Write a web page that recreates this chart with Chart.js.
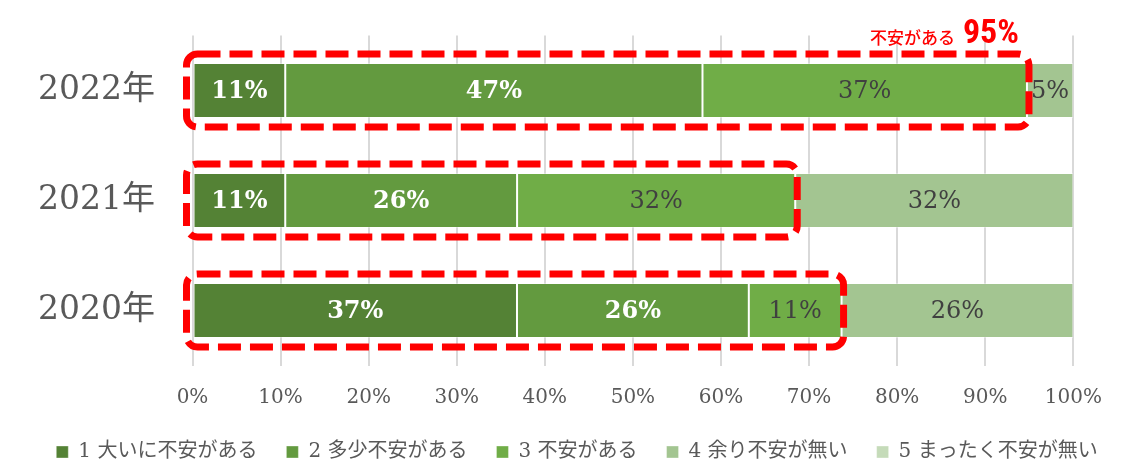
<!DOCTYPE html>
<html>
<head>
<meta charset="utf-8">
<script src="https://cdn.jsdelivr.net/npm/chart.js@4"></script>
<style>
html,body{margin:0;padding:0;background:#fff;}
#wrap{width:1122px;height:473px;}
</style>
</head>
<body>
<div id="wrap"><canvas id="c" width="1122" height="473"></canvas></div>
<script>
// ---- data ----
const categories = ['2022年', '2021年', '2020年'];
const seriesNames = ['1 大いに不安がある', '2 多少不安がある', '3 不安がある', '4 余り不安が無い', '5 まったく不安が無い'];
const series1 = [10.53, 10.53, 36.84];
const series2 = [47.37, 26.32, 26.32];
const series3 = [36.84, 31.58, 10.53];
const series4 = [5.26, 31.58, 26.32];
const series5 = [0, 0, 0];
const xTickValues = [0, 10, 20, 30, 40, 50, 60, 70, 80, 90, 100];
const calloutText = '不安がある';

// ---- styles ----
const seriesColors = ['#548235', '#639A3F', '#70AD47', '#A3C591', '#C5DBB9'];
const labelColors = ['#ffffff', '#ffffff', '#404040', '#404040', '#404040'];
const labelWeights = ['bold', 'bold', 'normal', 'normal', 'normal'];
const serif = '"DejaVu Serif", "Liberation Serif", "Noto Sans CJK JP", serif';
const allSeries = [series1, series2, series3, series4, series5];
const highlighted = [series1, series2, series3];

const valueLabels = {
  id: 'valueLabels',
  afterDatasetsDraw(chart) {
    const ctx = chart.ctx;
    ctx.save();
    ctx.textAlign = 'center';
    ctx.textBaseline = 'middle';
    chart.data.datasets.forEach((ds, di) => {
      const meta = chart.getDatasetMeta(di);
      meta.data.forEach((bar, i) => {
        const v = ds.data[i];
        if (!v) return;
        const p = bar.getProps(['x', 'y', 'base'], true);
        ctx.fillStyle = labelColors[di];
        ctx.font = labelWeights[di] + ' 24px ' + serif;
        ctx.fillText(Math.round(v) + '%', (p.x + p.base) / 2, p.y + 1);
      });
    });
    ctx.restore();
  }
};

const highlightBoxes = {
  id: 'highlightBoxes',
  afterDatasetsDraw(chart) {
    const ctx = chart.ctx;
    const xs = chart.scales.x;
    const meta0 = chart.getDatasetMeta(0);
    ctx.save();
    categories.forEach((c, i) => {
      const cum = highlighted.reduce((s, arr) => s + arr[i], 0);
      const bar = meta0.data[i];
      const h = bar.height;
      const left = xs.getPixelForValue(0) - 6;
      const right = xs.getPixelForValue(cum) + 2;
      const top = bar.y - h / 2 - 9;
      const bottom = bar.y + h / 2 + 9;
      ctx.beginPath();
      ctx.setLineDash([23, 9]);
      ctx.lineWidth = 7;
      ctx.strokeStyle = '#ff0000';
      ctx.roundRect(left, top, right - left, bottom - top, 11);
      ctx.stroke();
      if (i === 0) {
        ctx.setLineDash([]);
        ctx.fillStyle = '#ff0000';
        ctx.textAlign = 'right';
        ctx.textBaseline = 'alphabetic';
        const pct = Math.round(cum) + '%';
        ctx.font = 'bold 34px "Liberation Sans Narrow", "Roboto Condensed", Roboto, sans-serif';
        const tx = right - 10;
        const ty = top - 11;
        ctx.fillText(pct, tx, ty);
        const w = ctx.measureText(pct).width;
        ctx.font = '500 17px "Noto Sans CJK JP", sans-serif';
        ctx.fillText(calloutText, tx - w - 8, ty + 1);
      }
    });
    ctx.restore();
  }
};

const legendShift = {
  id: 'legendShift',
  afterLayout(chart) {
    if (chart.legend) { chart.legend.left += 16; chart.legend.right += 16; }
  }
};

new Chart(document.getElementById('c'), {
  type: 'bar',
  data: {
    labels: categories,
    datasets: allSeries.map((arr, k) => ({
      label: seriesNames[k],
      data: arr,
      backgroundColor: seriesColors[k],
      borderColor: 'rgba(255,255,255,0.35)',
      borderWidth: 1,
      borderSkipped: false,
      barPercentage: 0.5,
      categoryPercentage: 1.0
    }))
  },
  options: {
    indexAxis: 'y',
    responsive: false,
    animation: false,
    layout: { padding: { top: 35.5, right: 0, left: 0, bottom: 1 } },
    scales: {
      x: {
        stacked: true,
        min: 0,
        max: 100,
        afterBuildTicks(scale) { scale.ticks = xTickValues.map(v => ({ value: v })); },
        afterFit(scale) { scale.height = 47.5; scale.paddingLeft = 0; scale.paddingRight = 48.7; },
        grid: { color: '#d9d9d9', lineWidth: 2, drawTicks: false },
        border: { display: false },
        ticks: {
          padding: 20.6,
          color: '#595959',
          font: { family: serif, size: 20 },
          callback: v => v + '%'
        }
      },
      y: {
        stacked: true,
        afterFit(scale) { scale.width = 192.5; scale.paddingTop = 0; scale.paddingBottom = 0; },
        grid: { display: false, drawTicks: false },
        border: { display: false },
        ticks: {
          padding: 37.5,
          color: '#595959',
          font: { family: serif, size: 33 }
        }
      }
    },
    plugins: {
      legend: {
        position: 'bottom',
        labels: {
          boxWidth: 12,
          boxHeight: 12,
          padding: 29,
          color: '#595959',
          font: { family: serif, size: 20 }
        }
      },
      tooltip: { enabled: false }
    }
  },
  plugins: [valueLabels, highlightBoxes, legendShift]
});
</script>
</body>
</html>
